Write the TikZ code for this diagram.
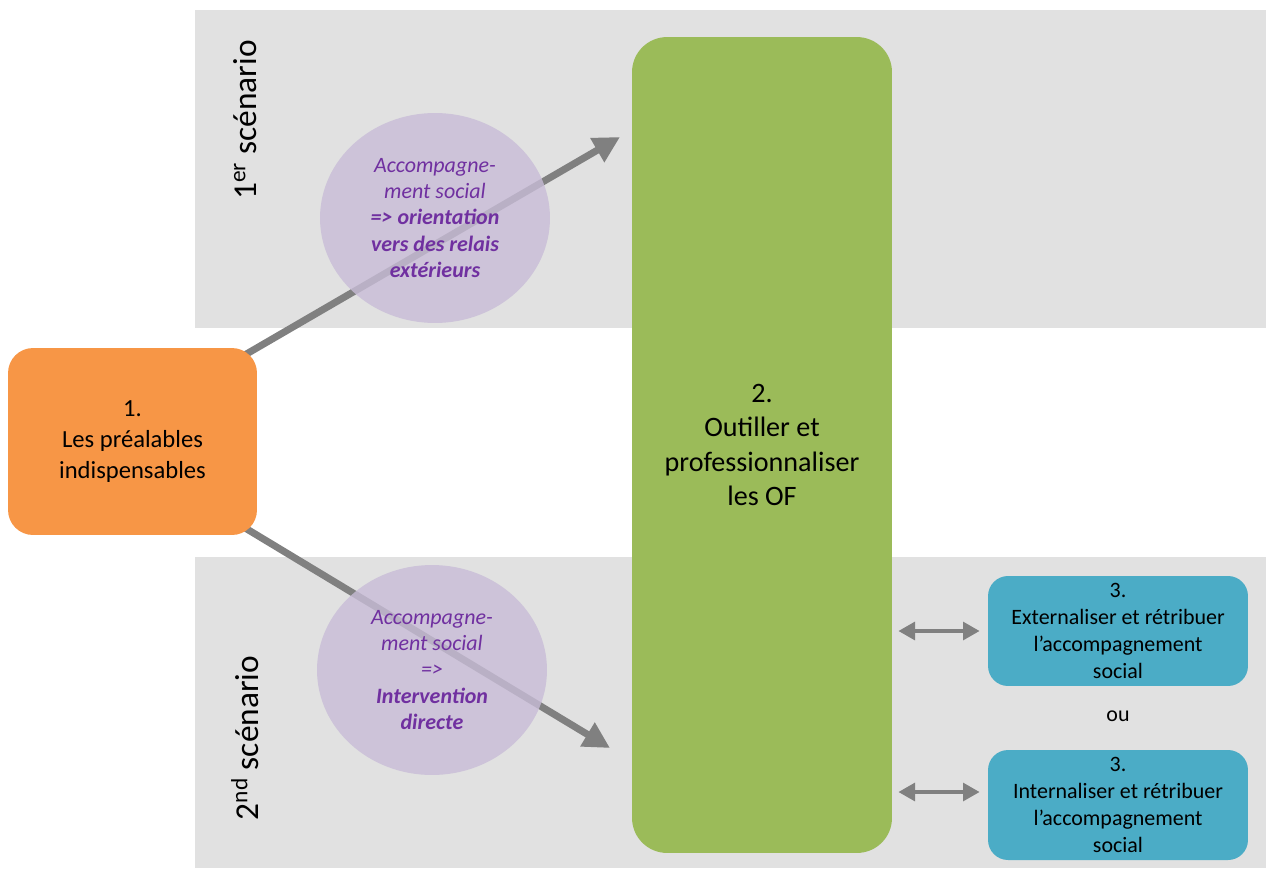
\documentclass[tikz,border=0pt]{standalone}
\usepackage{fontspec}
\setmainfont{Carlito}
\usetikzlibrary{arrows.meta,shapes.geometric}

\definecolor{bandgray}{HTML}{E1E1E1}
\definecolor{prefill}{HTML}{F79646}
\definecolor{offill}{HTML}{9BBB59}
\definecolor{accfill}{HTML}{4BACC6}
\definecolor{bubblefill}{HTML}{C8BCD7}
\definecolor{bubbletext}{HTML}{7030A0}
\definecolor{arrowgray}{HTML}{808080}

\pgfdeclarelayer{bands}
\pgfdeclarelayer{arrows}
\pgfsetlayers{bands,arrows,main}

\tikzset{
  band/.style={fill=bandgray},
  bigarrow/.style={draw=arrowgray, line width=4pt, -{Triangle[length=15pt,width=15pt]}},
  dblarrow/.style={draw=arrowgray, line width=2.8pt,
    {Triangle[length=9.5pt,width=10pt]}-{Triangle[length=9.5pt,width=10pt]}},
  bubble/.style={ellipse, fill=bubblefill, fill opacity=0.8, text opacity=1,
    text=bubbletext, minimum width=4.6cm, minimum height=4.2cm, inner sep=0pt,
    align=center, font=\fontsize{12.5}{15}\selectfont\itshape},
  stepbox/.style={rounded corners=0.5cm, align=center, inner sep=0pt},
  scenario/.style={rotate=90, font=\fontsize{19}{22}\selectfont}
}

\begin{document}
\begin{tikzpicture}[x=0.02cm,y=-0.02cm]
\useasboundingbox (0,0) rectangle (1266,868);
% scenario bands
\begin{pgfonlayer}{bands}
\fill [band] (195,10) rectangle (1266,328);
\fill [band] (195,557) rectangle (1266,868);
\end{pgfonlayer}
\node [scenario] (sc1) at (245,120) {1\textsuperscript{er} scénario};
\node [scenario] (sc2) at (245,738) {2\textsuperscript{nd} scénario};
% steps
\node [stepbox, fill=prefill, minimum width=4.98cm, minimum height=3.74cm,
  font=\fontsize{14}{17.6}\selectfont] (pre) at (132.5,441.5)
  {1.\\Les préalables\\indispensables};
\node [stepbox, rounded corners=0.7cm, fill=offill, minimum width=5.2cm, minimum height=16.32cm,
  font=\fontsize{16}{19.5}\selectfont] (of) at (762,445)
  {2.\\Outiller et\\professionnaliser\\les OF};
\node [stepbox, rounded corners=0.4cm, fill=accfill, minimum width=5.2cm, minimum height=2.2cm,
  font=\fontsize{12.5}{15.2}\selectfont] (ext) at (1118,631)
  {3.\\Externaliser et rétribuer\\l’accompagnement\\social};
\node [stepbox, rounded corners=0.4cm, fill=accfill, minimum width=5.2cm, minimum height=2.2cm,
  font=\fontsize{12.5}{15.2}\selectfont] (int) at (1118,805)
  {3.\\Internaliser et rétribuer\\l’accompagnement\\social};
\node [font=\fontsize{12.5}{15}\selectfont] (ou) at (1118,716) {ou};
% accompagnement social
\node [bubble] (acc1) at (435,218)
  {Accompagne-\\ment social\\\textbf{=> orientation}\\\textbf{vers des relais}\\\textbf{extérieurs}};
\node [bubble] (acc2) at (432,670)
  {Accompagne-\\ment social\\=>\\\textbf{Intervention}\\\textbf{directe}};
% arrows
\coordinate (t1) at (620,137);
\coordinate (t2) at (610,748);
\begin{pgfonlayer}{arrows}
\draw [bigarrow, shorten <=-0.4cm] (pre.north east) -- (t1);
\draw [bigarrow, shorten <=-0.4cm] (pre.south east) -- (t2);
\end{pgfonlayer}
\draw [dblarrow, shorten <=0.12cm, shorten >=0.16cm] (of.east |- ext.west) -- (ext.west);
\draw [dblarrow, shorten <=0.12cm, shorten >=0.16cm] ([yshift=0.26cm]of.east |- int.west) -- ([yshift=0.26cm]int.west);
\end{tikzpicture}
\end{document}
